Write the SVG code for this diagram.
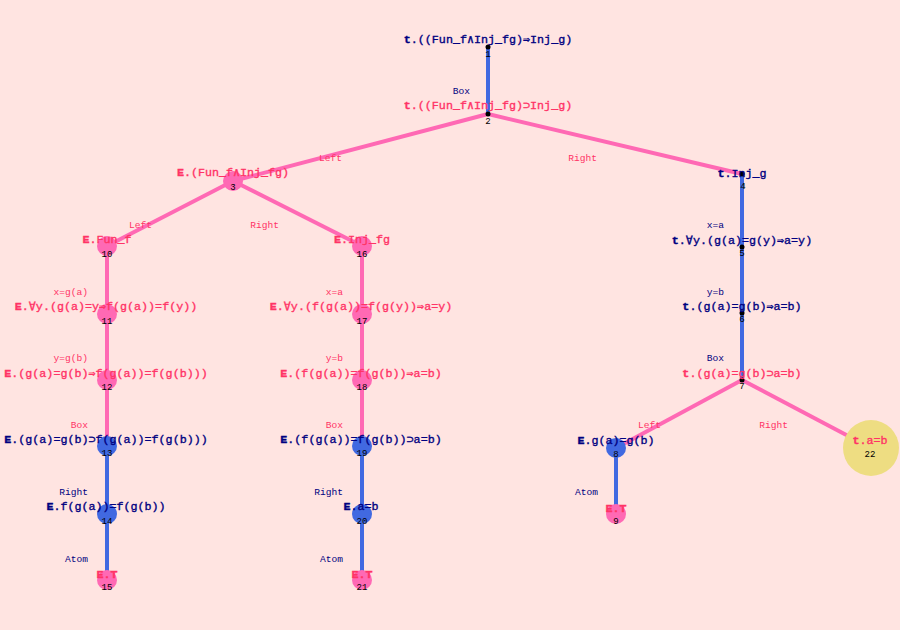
<svg xmlns="http://www.w3.org/2000/svg" width="900" height="630" viewBox="0 0 900 630">
<style>
.t{font-family:"Liberation Mono","DejaVu Sans Mono",monospace;font-size:11.7px;text-anchor:middle;stroke-width:0.35px}
.n{fill:#000080}
.t.n{stroke:#000080}
.p{fill:#FF3366}
.t.p{stroke:#FF3366}
.b{font-weight:bold}
.el{font-family:"Liberation Mono","DejaVu Sans Mono",monospace;font-size:9.6px;text-anchor:end}
.num{font-family:"Liberation Mono","DejaVu Sans Mono",monospace;font-size:9px;text-anchor:middle;fill:#000}
.ep{stroke:#FF69B4;stroke-width:4;fill:none}
.eb{stroke:#4169E1;stroke-width:4;fill:none}
.cp{fill:#FF69B4}
.cb{fill:#4169E1}
.dot{fill:#000}
</style>
<rect width="900" height="630" fill="#FFE4E1"/>
<g id="connectors">
<line class="eb" x1="488" y1="47" x2="488" y2="114"/>
<line class="ep" x1="488" y1="114" x2="233" y2="181"/>
<line class="ep" x1="488" y1="114" x2="742" y2="174"/>
<line class="ep" x1="233" y1="181" x2="107" y2="246"/>
<line class="ep" x1="233" y1="181" x2="362" y2="246"/>
<line class="ep" x1="107" y1="246" x2="107" y2="314"/>
<line class="ep" x1="107" y1="314" x2="107" y2="380"/>
<line class="ep" x1="107" y1="380" x2="107" y2="446"/>
<line class="eb" x1="107" y1="446" x2="107" y2="514"/>
<line class="eb" x1="107" y1="514" x2="107" y2="580"/>
<line class="ep" x1="362" y1="246" x2="362" y2="314"/>
<line class="ep" x1="362" y1="314" x2="362" y2="380"/>
<line class="ep" x1="362" y1="380" x2="362" y2="446"/>
<line class="eb" x1="362" y1="446" x2="362" y2="514"/>
<line class="eb" x1="362" y1="514" x2="362" y2="580"/>
<line class="eb" x1="742" y1="174" x2="742" y2="247"/>
<line class="eb" x1="742" y1="247" x2="742" y2="313"/>
<line class="eb" x1="742" y1="313" x2="742" y2="380"/>
<line class="ep" x1="742" y1="380" x2="616" y2="448"/>
<line class="ep" x1="742" y1="380" x2="871" y2="448"/>
<line class="eb" x1="616" y1="448" x2="616" y2="514"/>
<text class="el n" x="470" y="94">Box</text>
<text class="el p" x="342" y="161">Left</text>
<text class="el p" x="597" y="161">Right</text>
<text class="el p" x="152" y="228">Left</text>
<text class="el p" x="279" y="228">Right</text>
<text class="el p" x="88" y="295">x=g(a)</text>
<text class="el p" x="88" y="361">y=g(b)</text>
<text class="el p" x="88" y="428">Box</text>
<text class="el n" x="88" y="495">Right</text>
<text class="el n" x="88" y="562">Atom</text>
<text class="el p" x="343" y="295">x=a</text>
<text class="el p" x="343" y="361">y=b</text>
<text class="el p" x="343" y="428">Box</text>
<text class="el n" x="343" y="495">Right</text>
<text class="el n" x="343" y="562">Atom</text>
<text class="el n" x="724" y="228">x=a</text>
<text class="el n" x="724" y="295">y=b</text>
<text class="el n" x="724" y="361">Box</text>
<text class="el p" x="661" y="428">Left</text>
<text class="el p" x="788" y="428">Right</text>
<text class="el n" x="598" y="495">Atom</text>
</g>
<g id="node1"><circle class="dot" cx="488" cy="47" r="2.5"/><text class="t n" x="488" y="43"><tspan class="b">t</tspan>.((Fun_f∧Inj_fg)⇒Inj_g)</text><text class="num" x="488" y="57">1</text></g>
<g id="node2"><circle class="dot" cx="488" cy="114" r="2.5"/><text class="t p" x="488" y="109"><tspan class="b">t</tspan>.((Fun_f∧Inj_fg)⊃Inj_g)</text><text class="num" x="488" y="124">2</text></g>
<g id="node3"><circle class="cp" cx="233" cy="181" r="10"/><text class="t p" x="233" y="176"><tspan class="b">E</tspan>.(Fun_f∧Inj_fg)</text><text class="num" x="233" y="190">3</text></g>
<g id="node4"><circle class="dot" cx="742" cy="174" r="2.5"/><text class="t n" x="742" y="177"><tspan class="b">t</tspan>.Inj_g</text><text class="num" x="743" y="189">4</text></g>
<g id="node10"><circle class="cp" cx="107" cy="246" r="10"/><text class="t p" x="107" y="243"><tspan class="b">E</tspan>.Fun_f</text><text class="num" x="107" y="257">10</text></g>
<g id="node11"><circle class="cp" cx="107" cy="314" r="10"/><text class="t p" x="106" y="310"><tspan class="b">E</tspan>.∀y.(g(a)=y⇒f(g(a))=f(y))</text><text class="num" x="107" y="324">11</text></g>
<g id="node12"><circle class="cp" cx="107" cy="380" r="10"/><text class="t p" x="106" y="377"><tspan class="b">E</tspan>.(g(a)=g(b)⇒f(g(a))=f(g(b)))</text><text class="num" x="107" y="390">12</text></g>
<g id="node13"><circle class="cb" cx="107" cy="446" r="10"/><text class="t n" x="106" y="443"><tspan class="b">E</tspan>.(g(a)=g(b)⊃f(g(a))=f(g(b)))</text><text class="num" x="107" y="456">13</text></g>
<g id="node14"><circle class="cb" cx="107" cy="514" r="10"/><text class="t n" x="106" y="510"><tspan class="b">E</tspan>.f(g(a))=f(g(b))</text><text class="num" x="107" y="524">14</text></g>
<g id="node15"><circle class="cp" cx="107" cy="580" r="10"/><text class="t p b" x="107" y="578">E.T</text><text class="num" x="107" y="590">15</text></g>
<g id="node16"><circle class="cp" cx="362" cy="246" r="10"/><text class="t p" x="362" y="243"><tspan class="b">E</tspan>.Inj_fg</text><text class="num" x="362" y="257">16</text></g>
<g id="node17"><circle class="cp" cx="362" cy="314" r="10"/><text class="t p" x="361" y="310"><tspan class="b">E</tspan>.∀y.(f(g(a))=f(g(y))⇒a=y)</text><text class="num" x="362" y="324">17</text></g>
<g id="node18"><circle class="cp" cx="362" cy="380" r="10"/><text class="t p" x="361" y="377"><tspan class="b">E</tspan>.(f(g(a))=f(g(b))⇒a=b)</text><text class="num" x="362" y="390">18</text></g>
<g id="node19"><circle class="cb" cx="362" cy="446" r="10"/><text class="t n" x="361" y="443"><tspan class="b">E</tspan>.(f(g(a))=f(g(b))⊃a=b)</text><text class="num" x="362" y="456">19</text></g>
<g id="node20"><circle class="cb" cx="362" cy="514" r="10"/><text class="t n" x="361" y="510"><tspan class="b">E</tspan>.a=b</text><text class="num" x="362" y="524">20</text></g>
<g id="node21"><circle class="cp" cx="362" cy="580" r="10"/><text class="t p b" x="362" y="578">E.T</text><text class="num" x="362" y="590">21</text></g>
<g id="node5"><circle class="dot" cx="742" cy="247" r="2.5"/><text class="t n" x="742" y="244"><tspan class="b">t</tspan>.∀y.(g(a)=g(y)⇒a=y)</text><text class="num" x="742" y="256">5</text></g>
<g id="node6"><circle class="dot" cx="742" cy="313" r="2.5"/><text class="t n" x="742" y="310"><tspan class="b">t</tspan>.(g(a)=g(b)⇒a=b)</text><text class="num" x="742" y="322">6</text></g>
<g id="node7"><circle class="dot" cx="742" cy="380" r="2.5"/><text class="t p" x="742" y="377"><tspan class="b">t</tspan>.(g(a)=g(b)⊃a=b)</text><text class="num" x="742" y="389">7</text></g>
<g id="node8"><circle class="cb" cx="616" cy="448" r="10"/><text class="t n" x="616" y="444"><tspan class="b">E</tspan>.g(a)=g(b)</text><text class="num" x="616" y="457">8</text></g>
<g id="node9"><circle class="cp" cx="616" cy="514" r="10"/><text class="t p b" x="616" y="512">E.T</text><text class="num" x="616" y="524">9</text></g>
<g id="node22"><circle cx="871" cy="448" r="28" fill="#EEDD82"/><text class="t p" x="870" y="444"><tspan class="b">t</tspan>.a=b</text><text class="num" x="870" y="457">22</text></g>
</svg>
